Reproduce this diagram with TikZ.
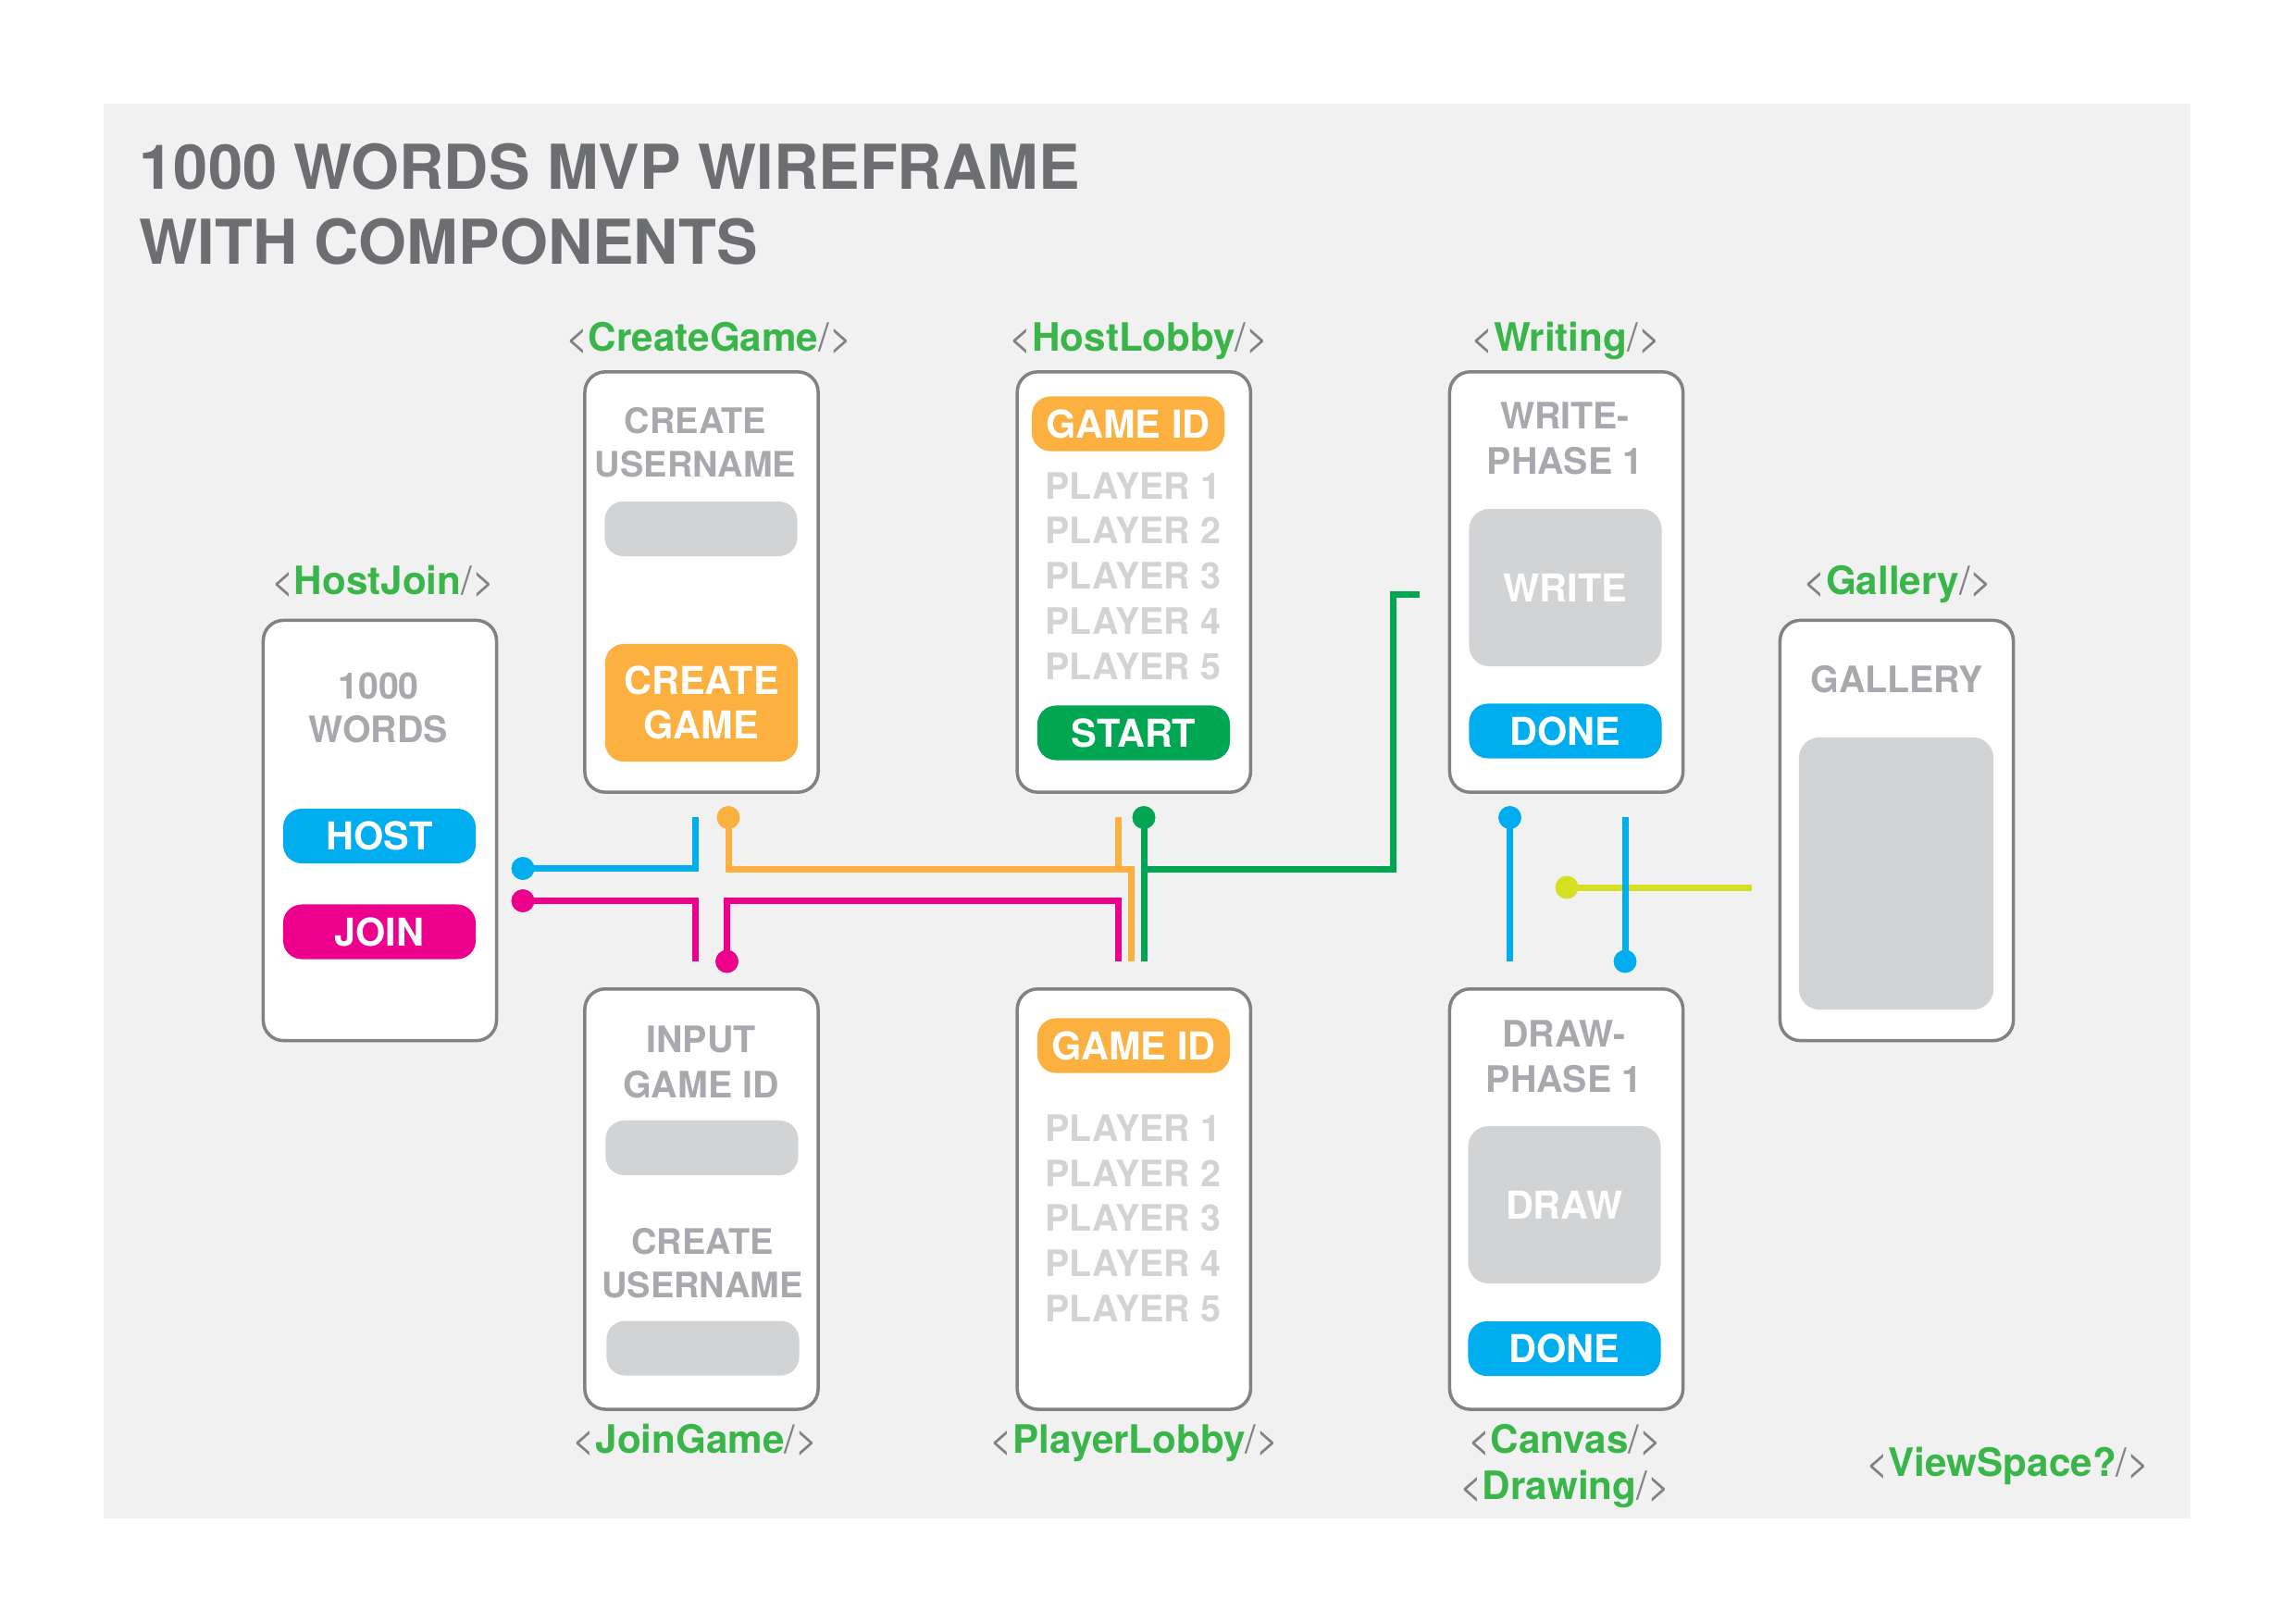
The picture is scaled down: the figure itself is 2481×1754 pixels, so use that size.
\documentclass[tikz,border=0pt]{standalone}
\usepackage{fontspec}
\setmainfont{TeX Gyre Heros}
\usetikzlibrary{positioning}

\definecolor{bgGray}{HTML}{F1F1F2}
\definecolor{frameGray}{HTML}{808285}
\definecolor{capGray}{HTML}{A7A9AC}
\definecolor{rowGray}{HTML}{D1D3D4}
\definecolor{fieldGray}{HTML}{D1D3D4}
\definecolor{titleGray}{HTML}{6D6E71}
\definecolor{tagGreen}{HTML}{39B54A}
\definecolor{tagGray}{HTML}{808285}
\definecolor{hostBlue}{HTML}{00AEEF}
\definecolor{joinPink}{HTML}{EC008C}
\definecolor{gameOrange}{HTML}{FBB040}
\definecolor{startGreen}{HTML}{00A651}
\definecolor{viewLime}{HTML}{D7DF23}

\newcommand{\comptag}[1]{{\color{tagGray}<}{\color{tagGreen}\bfseries #1}{\color{tagGray}/>}}

\begin{document}
\begin{tikzpicture}[x=0.01cm, y=-0.01cm, node distance=4.67cm, auto]
\tikzstyle{screen}=[rectangle, draw=frameGray, line width=1pt, fill=white, rounded corners=0.22cm, minimum width=2.52cm, minimum height=4.54cm]
\tikzstyle{pill}=[rectangle, rounded corners=0.2cm, minimum width=2.08cm, minimum height=0.59cm, inner sep=0pt, text=white, font=\fontsize{11.8}{13.8}\selectfont\bfseries, align=center]
\tikzstyle{field_box}=[rectangle, rounded corners=0.2cm, fill=fieldGray, minimum width=2.08cm, minimum height=0.59cm]
\tikzstyle{pad_box}=[rectangle, rounded corners=0.22cm, fill=fieldGray, minimum width=2.08cm, minimum height=1.7cm, text=white, font=\fontsize{11.8}{13.8}\selectfont\bfseries]
\tikzstyle{caption}=[text=capGray, font=\fontsize{10.8}{13.2}\selectfont\bfseries, align=center, inner sep=0pt]
\tikzstyle{player_row}=[text=rowGray, font=\fontsize{11.2}{13}\selectfont\bfseries, anchor=west, inner sep=0pt]
\tikzstyle{comp_tag}=[font=\fontsize{12}{14}\selectfont, anchor=base, inner sep=0pt]
\tikzstyle{title_line}=[text=titleGray, font=\fontsize{19}{22}\selectfont\bfseries, anchor=base west, inner sep=0pt]
\tikzstyle{wire}=[line width=0.07cm]
\tikzstyle{end_dot}=[circle, inner sep=0pt, minimum size=0.246cm]
%
\fill[white] (0,0) rectangle (2481,1754);
\fill[bgGray] (112,112) rectangle (2367,1641);
\useasboundingbox (0,0) rectangle (2481,1754);

\node [title_line] (t1) at (150,204) {1000 WORDS MVP WIREFRAME};
\node [title_line] (t2) at (150,285) {WITH COMPONENTS};

% screens
\node [screen] (cg) at (758,629) {};
\node [screen] (hl) [right of=cg] {};
\node [screen] (wr) [right of=hl] {};
\node [screen] (jg) [below of=cg, node distance=6.665cm] {};
\node [screen] (pl) [below of=hl, node distance=6.665cm] {};
\node [screen] (cv) [below of=wr, node distance=6.665cm] {};
\node [screen] (hj) at (410.5,897.5) {};
\node [screen] (gal) at (2049.5,897.5) {};

% HostJoin
\node [caption, font=\fontsize{11.2}{13.5}\selectfont\bfseries] (hjName) at (409,765) {1000\\WORDS};
\node [pill, fill=hostBlue] (host) at (410,903.5) {HOST};
\node [pill, fill=joinPink] (join) at (410,1007) {JOIN};

% CreateGame
\node [caption] (cgName) at (751.5,478) {CREATE\\USERNAME};
\node [field_box] (cgUser) at (757.5,571.5) {};
\node [pill, fill=gameOrange, minimum height=1.27cm] (cgBtn) at (758,759.5) {CREATE\\GAME};

% HostLobby
\node [pill, fill=gameOrange] (hlId) at (1219,458) {GAME ID};
\foreach \i in {1,...,5}
	\node [player_row] (hlP\i) at (1129,476+48.8*\i) {PLAYER \i};
\node [pill, fill=startGreen] (hlStart) at (1225,792) {START};

% Writing
\node [caption, font=\fontsize{11.2}{13.9}\selectfont\bfseries] (wrName) at (1691,474) {WRITE-\\PHASE 1};
\node [pad_box] (wrPad) at (1691.5,635) {WRITE};
\node [pill, fill=hostBlue] (wrDone) at (1691.5,790) {DONE};

% Gallery
\node [caption, font=\fontsize{11.2}{13.5}\selectfont\bfseries] (galName) at (2050,734) {GALLERY};
\node [pad_box, minimum width=2.1cm, minimum height=2.94cm] (galPad) at (2049,944) {};

% JoinGame
\node [caption, font=\fontsize{11.2}{13.8}\selectfont\bfseries] (jgName) at (757.6,1148) {INPUT\\GAME ID};
\node [field_box] (jgId) at (758.5,1240.5) {};
\node [caption] (jgUserName) at (759,1365) {CREATE\\USERNAME};
\node [field_box] (jgUser) at (759.5,1457) {};

% PlayerLobby
\node [pill, fill=gameOrange] (plId) at (1225,1130) {GAME ID};
\foreach \i in {1,...,5}
	\node [player_row] (plP\i) at (1129,1170.2+48.8*\i) {PLAYER \i};

% Canvas
\node [caption, font=\fontsize{11.2}{13.9}\selectfont\bfseries] (cvName) at (1690,1141.5) {DRAW-\\PHASE 1};
\node [pad_box] (cvPad) at (1690.5,1302) {DRAW};
\node [pill, fill=hostBlue] (cvDone) at (1690.5,1457.5) {DONE};

% component names
\node [comp_tag] (hjTag) at (414,642) {\comptag{HostJoin}};
\node [comp_tag] (cgTag) at (766,379) {\comptag{CreateGame}};
\node [comp_tag] (hlTag) at (1231,379) {\comptag{HostLobby}};
\node [comp_tag] (wrTag) at (1692,379) {\comptag{Writing}};
\node [comp_tag] (galTag) at (2051,642) {\comptag{Gallery}};
\node [comp_tag] (jgTag) at (751.5,1570.5) {\comptag{JoinGame}};
\node [comp_tag] (plTag) at (1226,1570.5) {\comptag{PlayerLobby}};
\node [comp_tag] (cvTag) at (1691,1570.5) {\comptag{Canvas}};
\node [comp_tag] (drTag) at (1691,1620) {\comptag{Drawing}};
\node [comp_tag] (vsTag) at (2169.6,1595) {\comptag{ViewSpace?}};

% connectors
\node [end_dot, fill=hostBlue] (hostDot) at (565,938.5) {};
\node [end_dot, fill=joinPink] (joinDot) at (565,973.5) {};
\node [end_dot, fill=joinPink] (jgDot) at (785.5,1039) {};
\node [end_dot, fill=gameOrange] (cgDot) at (787,883.5) {};
\node [end_dot, fill=startGreen] (hlDot) at (1236,883.5) {};
\node [end_dot, fill=hostBlue] (wrDot) at (1631.5,883.5) {};
\node [end_dot, fill=hostBlue] (cvDot) at (1756,1039) {};
\node [end_dot, fill=viewLime] (cvLime) at (1693,959) {};

\coordinate (cgIn) at (751,883);
\coordinate (jgIn) at (751,1039);
\coordinate (hlOr) at (1208,883);
\coordinate (plOr) at (1222,1039);
\coordinate (plMag) at (1208,1039);
\coordinate (plGr) at (1236,1039);
\coordinate (grJoint) at (1236,939);
\coordinate (wrIn) at (1534,642);
\coordinate (cvIn) at (1631.5,1039);
\coordinate (wrOut) at (1756,883);
\coordinate (galIn) at (1893,959);

\draw [wire, hostBlue] (hostDot.center) -| (cgIn);
\draw [wire, joinPink] (joinDot.center) -| (jgIn);
\draw [wire, joinPink] (jgDot.center) -- ++(0,-66) -| (plMag);
\draw [wire, gameOrange] (cgDot.center) -- ++(0,55.5) -| (plOr);
\draw [wire, gameOrange] (hlOr) -- ++(0,56);
\draw [wire, startGreen] (hlDot.center) -- (plGr);
\draw [wire, startGreen] (grJoint) -- ++(269,0) |- (wrIn);
\draw [wire, viewLime] (cvLime.center) -- (galIn);
\draw [wire, hostBlue] (wrDot.center) -- (cvIn);
\draw [wire, hostBlue] (wrOut) -- (cvDot.center);

\node [end_dot, fill=hostBlue] at (hostDot) {};
\node [end_dot, fill=joinPink] at (joinDot) {};
\node [end_dot, fill=joinPink] at (jgDot) {};
\node [end_dot, fill=gameOrange] at (cgDot) {};
\node [end_dot, fill=startGreen] at (hlDot) {};
\node [end_dot, fill=hostBlue] at (wrDot) {};
\node [end_dot, fill=hostBlue] at (cvDot) {};
\node [end_dot, fill=viewLime] at (cvLime) {};
%
\end{tikzpicture}
\end{document}
